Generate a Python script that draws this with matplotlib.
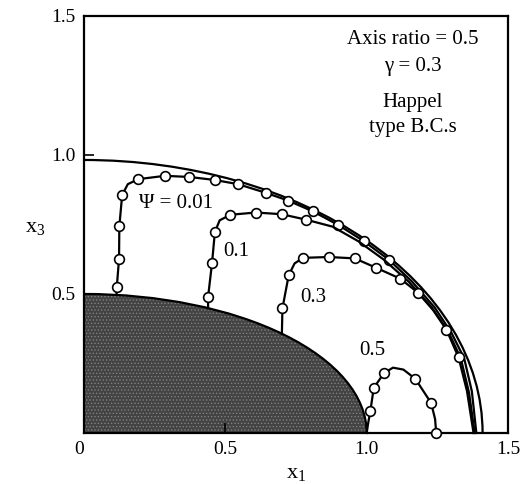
import matplotlib
matplotlib.use("Agg")
import matplotlib.pyplot as plt
from matplotlib.patches import Ellipse, Arc

plt.rcParams['font.family'] = ['Liberation Serif', 'DejaVu Serif']
plt.rcParams['mathtext.fontset'] = 'custom'
plt.rcParams['mathtext.rm'] = 'Liberation Serif'
plt.rcParams['mathtext.it'] = 'Liberation Serif'
plt.rcParams['hatch.linewidth'] = 0.6

# body (spheroid) semi-axes and outer cell boundary semi-axes
body_a, body_b = 1.0, 0.5
cell_a, cell_b = 1.41, 0.982

# streamlines (x, y) and indices of points carrying circle markers
psi001_x = [0.115, 0.116, 0.124, 0.125, 0.135, 0.155, 0.192, 0.286, 0.372, 0.463, 0.545, 0.643, 0.722, 0.810,
            0.900, 0.990, 1.080, 1.160, 1.240, 1.300, 1.345, 1.372, 1.388]
psi001_y = [0.497, 0.525, 0.627, 0.743, 0.856, 0.895, 0.913, 0.925, 0.921, 0.910, 0.895, 0.864, 0.836, 0.797,
            0.748, 0.690, 0.622, 0.545, 0.452, 0.360, 0.268, 0.150, 0.000]
psi001_m = [1, 2, 3, 4, 6, 7, 8, 9, 10, 11, 12, 13, 14, 15, 16]

psi01_x = [0.439, 0.439, 0.453, 0.463, 0.480, 0.518, 0.608, 0.699, 0.787, 0.880, 0.970, 1.060, 1.150, 1.230,
           1.290, 1.333, 1.362, 1.382]
psi01_y = [0.449, 0.490, 0.612, 0.723, 0.765, 0.785, 0.793, 0.787, 0.767, 0.742, 0.690, 0.624, 0.543, 0.452,
           0.362, 0.268, 0.145, 0.000]
psi01_m = [1, 2, 3, 5, 6, 7, 8]

psi03_x = [0.700, 0.702, 0.724, 0.745, 0.775, 0.866, 0.958, 1.034, 1.119, 1.181, 1.235, 1.282, 1.325, 1.355,
           1.378]
psi03_y = [0.357, 0.448, 0.567, 0.610, 0.630, 0.633, 0.628, 0.594, 0.555, 0.505, 0.442, 0.372, 0.272, 0.150,
           0.000]
psi03_m = [1, 2, 4, 5, 6, 7, 8, 9, 11, 12]

psi05_x = [1.000, 1.006, 1.013, 1.025, 1.061, 1.093, 1.130, 1.172, 1.228, 1.242, 1.246]
psi05_y = [0.000, 0.040, 0.079, 0.162, 0.215, 0.235, 0.228, 0.195, 0.108, 0.050, 0.000]
psi05_m = [2, 3, 4, 7, 8, 10]

stream_labels = ['\u03a8 = 0.01', '0.1', '0.3', '0.5']
label_pos = [(0.327, 0.826), (0.540, 0.654), (0.810, 0.487), (1.020, 0.296)]

info_lines = ['Axis ratio = 0.5', '\u03b3 = 0.3', 'Happel', 'type B.C.s']
info_y = [1.415, 1.318, 1.190, 1.100]
info_x = 1.163

xticks = [0, 0.5, 1.0, 1.5]
xticklabels = ['0', '0.5', '1.0', '1.5']
yticks = [0.5, 1.0, 1.5]
yticklabels = ['0.5', '1.0', '1.5']

fig = plt.figure(figsize=(5.24, 4.84), dpi=100)
ax = fig.add_axes([0.1603, 0.1054, 0.8092, 0.8616])
ax.set_xlim(0, 1.5)
ax.set_ylim(0, 1.5)

# shaded body
body = Ellipse((0, 0), 2 * body_a, 2 * body_b, facecolor='#434343', edgecolor='#808080',
               hatch='.....', linewidth=0, zorder=1)
ax.add_patch(body)
ax.add_patch(Ellipse((0, 0), 2 * body_a, 2 * body_b, facecolor='none', edgecolor='black',
                     linewidth=1.6, zorder=2))

# outer cell boundary
ax.add_patch(Arc((0, 0), 2 * cell_a, 2 * cell_b, theta1=0, theta2=90, color='black',
                 linewidth=1.6, zorder=3))

for xs, ys, m in [(psi001_x, psi001_y, psi001_m), (psi01_x, psi01_y, psi01_m),
                  (psi03_x, psi03_y, psi03_m), (psi05_x, psi05_y, psi05_m)]:
    ax.plot(xs, ys, color='black', linewidth=1.6, marker='o', markevery=m, markersize=7,
            markerfacecolor='white', markeredgecolor='black', markeredgewidth=1.2, zorder=4,
            clip_on=False)

for lab, (lx, ly) in zip(stream_labels, label_pos):
    ax.text(lx, ly, lab, ha='center', va='center', fontsize=15)

for t, yy in zip(info_lines, info_y):
    ax.text(info_x, yy, t, ha='center', va='center', fontsize=15)

ax.set_xticks(xticks)
ax.set_xticklabels(xticklabels)
ax.set_yticks(yticks)
ax.set_yticklabels(yticklabels)
ax.tick_params(direction='in', length=7, width=1.2, labelsize=14, pad=6)
ax.get_xticklabels()[0].set_horizontalalignment('right')
for s in ax.spines.values():
    s.set_linewidth(1.6)

ax.set_xlabel(r'$\mathregular{x_1}$', fontsize=16, labelpad=4)
ax.set_ylabel(r'$\mathregular{x_3}$', fontsize=16, rotation=0, labelpad=0)
ax.yaxis.set_label_coords(-0.115, 0.47)

fig.savefig('out.png', dpi=100)
